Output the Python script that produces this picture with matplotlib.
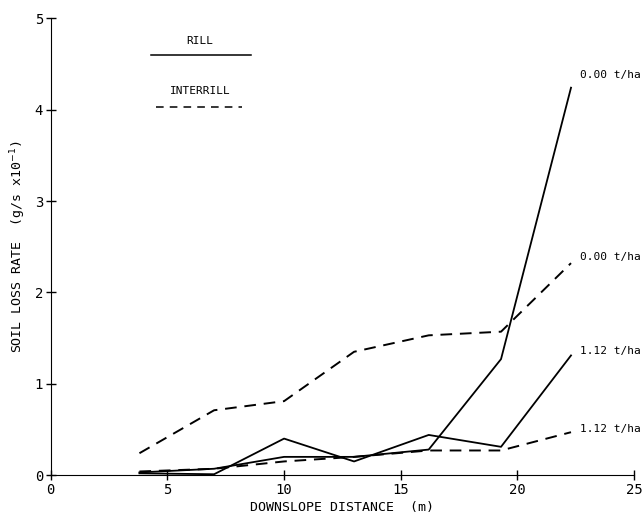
import matplotlib
matplotlib.use("Agg")
import matplotlib.pyplot as plt

# downslope positions (m)
distance = [3.8, 7.0, 10.0, 13.0, 16.2, 19.3, 22.3]

# soil loss rate (g/s x10^-1)
rill_000 = [0.03, 0.07, 0.20, 0.20, 0.28, 1.27, 4.24]
rill_112 = [0.02, 0.01, 0.40, 0.15, 0.44, 0.31, 1.31]
interrill_000 = [0.24, 0.71, 0.81, 1.35, 1.53, 1.57, 2.32]
interrill_112 = [0.04, 0.07, 0.15, 0.20, 0.27, 0.27, 0.47]

end_labels = ["0.00 t/ha", "0.00 t/ha", "1.12 t/ha", "1.12 t/ha"]

plt.rcParams['font.family'] = ['DejaVu Sans Mono']

fig = plt.figure(figsize=(6.43, 5.21), dpi=100)
ax = fig.add_axes([0.079, 0.088, 0.907, 0.877])

dash = (0, (6, 4))
ax.plot(distance, rill_000, color='black', lw=1.3)
ax.plot(distance, rill_112, color='black', lw=1.3)
ax.plot(distance, interrill_000, color='black', lw=1.4, linestyle=dash)
ax.plot(distance, interrill_112, color='black', lw=1.4, linestyle=dash)

# labels at the right-hand ends
ends = [rill_000[-1], interrill_000[-1], rill_112[-1], interrill_112[-1]]
offsets = [0.14, 0.07, 0.05, 0.04]
for y, off, lab in zip(ends, offsets, end_labels):
    ax.text(distance[-1] + 0.4, y + off, lab, fontsize=8, ha='left', va='center')

# legend drawn by hand like the original
ax.text(6.4, 4.75, "RILL", fontsize=8, ha='center', va='center')
ax.plot([4.3, 8.6], [4.6, 4.6], color='black', lw=1.1)
ax.text(6.4, 4.2, "INTERRILL", fontsize=8, ha='center', va='center')
ax.plot([4.5, 8.2], [4.03, 4.03], color='black', lw=1.1, linestyle=(0, (5, 4)))

ax.set_xlim(0, 25)
ax.set_ylim(0, 5)
ax.set_xticks([0, 5, 10, 15, 20, 25])
ax.set_yticks([0, 1, 2, 3, 4, 5])
ax.tick_params(direction='inout', length=7, width=1, labelsize=10, pad=2)
for s in ['top', 'right']:
    ax.spines[s].set_visible(False)

ax.set_xlabel("DOWNSLOPE DISTANCE  (m)", fontsize=9.5, labelpad=3)
ax.set_ylabel(r"SOIL LOSS RATE  (g/s x10$^{-1}$)", fontsize=9.5, labelpad=5)

fig.savefig("out.png", dpi=100)
